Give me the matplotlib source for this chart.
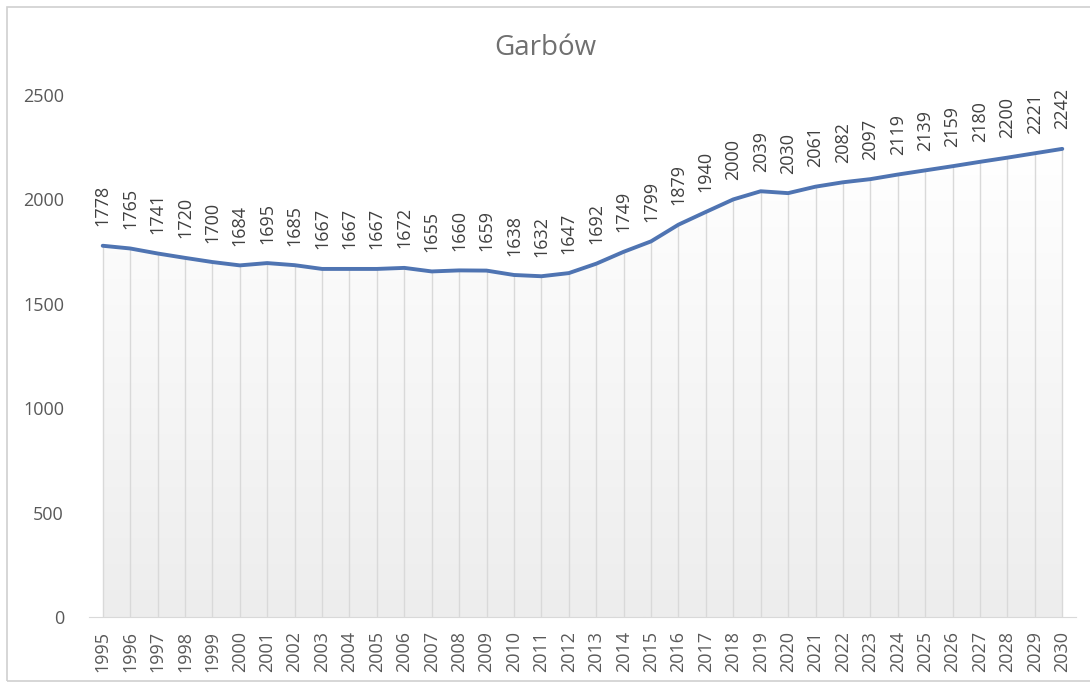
import numpy as np
import matplotlib.pyplot as plt
from matplotlib.patches import Rectangle
from matplotlib.colors import LinearSegmentedColormap

plt.rcParams['font.family'] = ['Open Sans', 'DejaVu Sans']

years = [str(y) for y in range(1995, 2031)]
population = [1778, 1765, 1741, 1720, 1700, 1684, 1695, 1685, 1667, 1667,
              1667, 1672, 1655, 1660, 1659, 1638, 1632, 1647, 1692, 1749,
              1799, 1879, 1940, 2000, 2039, 2030, 2061, 2082, 2097, 2119,
              2139, 2159, 2180, 2200, 2221, 2242]
y_ticks = [0, 500, 1000, 1500, 2000, 2500]

fig = plt.figure(figsize=(10.9, 6.83), dpi=100)

# outer chart frame
fig.patches.append(Rectangle((7 / 1090, 2 / 683), 1.0, 674 / 683, transform=fig.transFigure,
                             fill=False, edgecolor='#d0d0d0', linewidth=1.2))

ax = fig.add_axes([89 / 1090, 66 / 683, 987 / 1090, 522 / 683])
x = np.arange(len(years))
vals = np.array(population)

# gradient fill below the line (white at top, light grey at the base)
poly = ax.fill_between(x, 0, vals, color='none')
grad = np.linspace(0.0, 1.0, 256).reshape(-1, 1)
cmap = LinearSegmentedColormap.from_list('g', ['#ededed', '#ffffff'])
img = ax.imshow(grad, extent=[x[0], x[-1], 0, vals.max()], aspect='auto',
                cmap=cmap, origin='lower', zorder=1)
img.set_clip_path(poly.get_paths()[0], transform=ax.transData)

# drop lines
ax.vlines(x, 0, vals, color='#d9d9d9', linewidth=1.0, zorder=2)

ax.plot(x, vals, color='#4f74b2', linewidth=2.8, solid_capstyle='round', zorder=3)

for xi, v in zip(x, population):
    ax.annotate(str(v), (xi, v), xytext=(0, 14), textcoords='offset points',
                rotation=90, ha='center', va='bottom', fontsize=13, color='#404040')

ax.set_xlim(-0.5, len(years) - 0.5)
ax.set_ylim(0, 2500)
ax.set_yticks(y_ticks)
ax.set_xticks(x)
ax.set_xticklabels(years, rotation=90)
ax.tick_params(axis='both', length=0, labelsize=13, labelcolor='#595959')
ax.tick_params(axis='y', pad=18)
ax.tick_params(axis='x', pad=10)
for s in ['top', 'right', 'left']:
    ax.spines[s].set_visible(False)
ax.spines['bottom'].set_color('#d9d9d9')

fig.text(0.5, 1 - 48 / 683, 'Garbów', ha='center', va='center', fontsize=20, color='#707070')

fig.savefig('out.png', dpi=100)
